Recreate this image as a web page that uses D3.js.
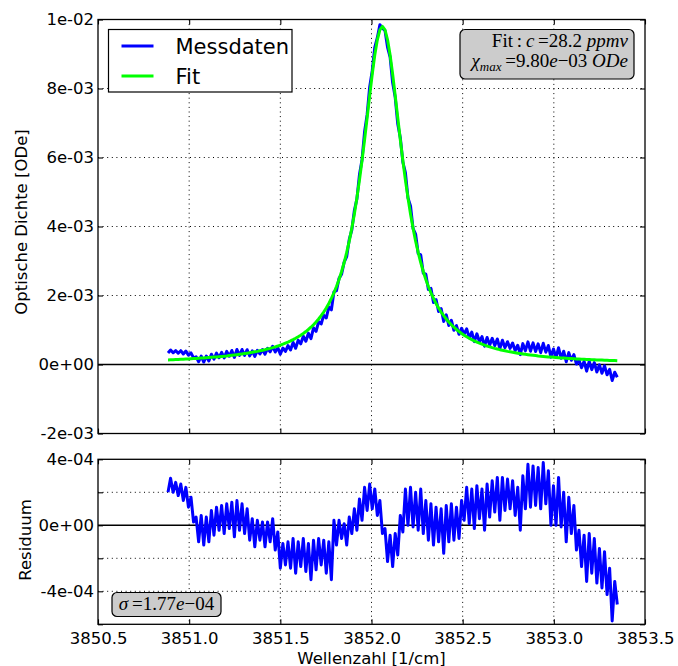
<!DOCTYPE html>
<html>
<head>
<meta charset="utf-8">
<script src="https://cdn.jsdelivr.net/npm/d3@7"></script>
<style>
  body { margin: 0; background: #fff; }
  svg { display: block; }
  .tick text { font-family: "DejaVu Sans", sans-serif; font-size: 16.5px; fill: #000; }
</style>
</head>
<body>
<svg id="chart" width="678" height="666"></svg>
<script>
// Wavenumber grid of the recorded spectrum [1/cm]
const wavenumber = [
  3850.884, 3850.898, 3850.912, 3850.926, 3850.940, 3850.954, 3850.968, 3850.982, 3850.996, 3851.010,
  3851.024, 3851.038, 3851.052, 3851.066, 3851.080, 3851.094, 3851.108, 3851.122, 3851.136, 3851.150,
  3851.164, 3851.178, 3851.192, 3851.206, 3851.220, 3851.234, 3851.248, 3851.262, 3851.276, 3851.290,
  3851.304, 3851.318, 3851.332, 3851.346, 3851.360, 3851.374, 3851.388, 3851.402, 3851.416, 3851.430,
  3851.444, 3851.458, 3851.472, 3851.486, 3851.500, 3851.514, 3851.528, 3851.542, 3851.556, 3851.570,
  3851.584, 3851.598, 3851.612, 3851.626, 3851.640, 3851.654, 3851.668, 3851.682, 3851.696, 3851.710,
  3851.724, 3851.738, 3851.752, 3851.766, 3851.780, 3851.794, 3851.808, 3851.822, 3851.836, 3851.850,
  3851.864, 3851.878, 3851.892, 3851.906, 3851.920, 3851.934, 3851.948, 3851.962, 3851.976, 3851.990,
  3852.004, 3852.018, 3852.032, 3852.046, 3852.060, 3852.074, 3852.088, 3852.102, 3852.116, 3852.130,
  3852.144, 3852.158, 3852.172, 3852.186, 3852.200, 3852.214, 3852.228, 3852.242, 3852.256, 3852.270,
  3852.284, 3852.298, 3852.312, 3852.326, 3852.340, 3852.354, 3852.368, 3852.382, 3852.396, 3852.410,
  3852.424, 3852.438, 3852.452, 3852.466, 3852.480, 3852.494, 3852.508, 3852.522, 3852.536, 3852.550,
  3852.564, 3852.578, 3852.592, 3852.606, 3852.620, 3852.634, 3852.648, 3852.662, 3852.676, 3852.690,
  3852.704, 3852.718, 3852.732, 3852.746, 3852.760, 3852.774, 3852.788, 3852.802, 3852.816, 3852.830,
  3852.844, 3852.858, 3852.872, 3852.886, 3852.900, 3852.914, 3852.928, 3852.942, 3852.956, 3852.970,
  3852.984, 3852.998, 3853.012, 3853.026, 3853.040, 3853.054, 3853.068, 3853.082, 3853.096, 3853.110,
  3853.124, 3853.138, 3853.152, 3853.166, 3853.180, 3853.194, 3853.208, 3853.222, 3853.236, 3853.250,
  3853.264, 3853.278, 3853.292, 3853.306, 3853.320, 3853.334, 3853.348
];

// Fitted line profile, optical density in units of 1e-3
const fitOD_e3 = [
  0.133, 0.136, 0.140, 0.143, 0.147, 0.150, 0.154, 0.158, 0.162, 0.166,
  0.171, 0.175, 0.180, 0.185, 0.191, 0.196, 0.202, 0.208, 0.214, 0.220,
  0.227, 0.234, 0.242, 0.249, 0.258, 0.266, 0.275, 0.285, 0.295, 0.305,
  0.316, 0.328, 0.340, 0.353, 0.367, 0.381, 0.397, 0.413, 0.430, 0.449,
  0.468, 0.489, 0.512, 0.535, 0.561, 0.588, 0.618, 0.649, 0.683, 0.720,
  0.760, 0.803, 0.849, 0.900, 0.955, 1.015, 1.081, 1.153, 1.232, 1.319,
  1.415, 1.521, 1.638, 1.769, 1.915, 2.078, 2.261, 2.466, 2.696, 2.956,
  3.248, 3.577, 3.948, 4.365, 4.830, 5.344, 5.908, 6.515, 7.151, 7.794,
  8.414, 8.969, 9.412, 9.700, 9.800,
  9.700, 9.412, 8.969, 8.414, 7.794, 7.151, 6.515, 5.908, 5.344, 4.830,
  4.365, 3.948, 3.577, 3.248, 2.956, 2.696, 2.466, 2.261, 2.078, 1.915,
  1.769, 1.638, 1.521, 1.415, 1.319, 1.232, 1.153, 1.081, 1.015, 0.955,
  0.900, 0.849, 0.803, 0.760, 0.720, 0.683, 0.649, 0.618, 0.588, 0.561,
  0.535, 0.512, 0.489, 0.468, 0.449, 0.430, 0.413, 0.397, 0.381, 0.367,
  0.353, 0.340, 0.328, 0.316, 0.305, 0.295, 0.285, 0.275, 0.266, 0.258,
  0.249, 0.242, 0.234, 0.227, 0.220, 0.214, 0.208, 0.202, 0.196, 0.191,
  0.185, 0.180, 0.175, 0.171, 0.166, 0.162, 0.158, 0.154, 0.150, 0.147,
  0.143, 0.140, 0.136, 0.133, 0.130, 0.127, 0.124, 0.121, 0.119, 0.116,
  0.114, 0.111
];

// Residual (measurement minus fit), in units of 1e-4
const residual_e4 = [
   2.0,  2.85, 2.0,  2.6,  1.8,  2.5,  1.5,  2.3,  1.1,  1.7,
   0.2,  0.5, -1.0,  0.6, -1.2,  0.5, -1.0,  0.9, -0.6,  1.1,
  -0.3,  1.2, -0.5,  1.3, -0.2,  1.4, -0.7,  1.5, -0.3,  1.3,
  -0.5,  1.0, -0.9,  0.4, -1.3,  0.3, -0.9,  0.2, -1.3,  0.2,
  -1.0,  0.4, -1.5, -0.4, -2.6, -1.1, -2.4, -1.0, -2.6, -0.8,
  -2.9, -1.0, -2.5, -0.8, -2.8, -1.1, -3.3, -0.9, -2.7, -0.8,
  -2.4, -0.9, -2.9, -1.0, -3.3,  0.3, -1.2,  0.3, -0.8,  0.1,
  -1.2,  0.5, -0.5,  1.0, -0.3,  1.6,  0.3,  2.3,  0.9,  2.5,
   1.0,  2.2,  0.6,  1.5, -0.5, -0.2, -2.2, -0.6, -2.5, -0.5,
  -1.8,  0.6, -0.4,  2.2,  0.0,  2.3, -0.1,  2.0, -0.3,  2.2,
  -0.5,  1.5, -0.9,  1.3, -1.2,  1.1, -1.0,  1.0, -1.7,  1.2,
  -1.0,  1.3, -0.9,  1.1, -0.8,  1.5,  0.3,  2.3,  0.1,  2.2,
  -0.2,  2.4,  0.4,  2.2, -0.3,  2.5,  0.5,  2.7,  0.8,  2.9,
   0.3,  2.9,  0.9,  2.8,  1.0,  2.7,  0.6,  2.3, -0.3,  3.0,
   1.0,  3.7,  1.1,  3.6,  1.2,  3.5,  1.0,  3.8,  1.3,  3.3,
   0.0,  2.4,  0.0,  2.9, -0.1,  2.0, -1.0,  1.7, -0.5,  1.2,
  -1.5, -0.3, -2.5, -0.6, -3.4, -0.5, -2.9, -0.8, -3.5, -1.4,
  -3.8, -1.6, -4.2, -2.6, -5.8, -3.4, -4.8
];

// Axis ticks and their labels
const xTicks = [3850.5, 3851.0, 3851.5, 3852.0, 3852.5, 3853.0, 3853.5];
const xTickLabels = ["3850.5", "3851.0", "3851.5", "3852.0", "3852.5", "3853.0", "3853.5"];
const odTicks = [-2e-3, 0, 2e-3, 4e-3, 6e-3, 8e-3, 1e-2];
const odTickLabels = ["-2e-03", "0e+00", "2e-03", "4e-03", "6e-03", "8e-03", "1e-02"];
const resTicks = [-6e-4, -4e-4, -2e-4, 0, 2e-4, 4e-4];
const resTickLabels = ["", "-4e-04", "", "0e+00", "", "4e-04"];

// Series names
const seriesNames = ["Messdaten", "Fit"];
const seriesColors = ["#0000ff", "#00ff00"];

// Derived series
const fitOD = fitOD_e3.map(v => v * 1e-3);
const residual = residual_e4.map(v => v * 1e-4);
const measuredOD = fitOD.map((f, i) => f + residual[i]);

const svg = d3.select("#chart");
const left = 98, right = 645;
const topPanel = { y0: 19.5, y1: 433.5 };
const resPanel = { y0: 459.3, y1: 624.3 };

const x = d3.scaleLinear().domain([3850.5, 3853.5]).range([left, right]);
const yOD = d3.scaleLinear().domain([-2e-3, 1e-2]).range([topPanel.y1, topPanel.y0]);
const yRes = d3.scaleLinear().domain([-6e-4, 4e-4]).range([resPanel.y1, resPanel.y0]);

const defs = svg.append("defs");
function clip(id, p) {
  defs.append("clipPath").attr("id", id)
    .append("rect").attr("x", left).attr("y", p.y0)
    .attr("width", right - left).attr("height", p.y1 - p.y0);
}
clip("clipTop", topPanel);
clip("clipRes", resPanel);

function panel(p, y, yTicks, yLabels, showXLabels) {
  const g = svg.append("g");
  // dotted grid
  const grid = g.append("g").attr("stroke", "#000").attr("stroke-width", 1)
    .attr("stroke-dasharray", "1,3.6");
  grid.selectAll("line.v").data(xTicks.slice(1, -1)).join("line")
    .attr("x1", d => x(d)).attr("x2", d => x(d))
    .attr("y1", p.y0).attr("y2", p.y1);
  grid.selectAll("line.h").data(yTicks.filter(d => y(d) > p.y0 + 1 && y(d) < p.y1 - 1 && d !== 0)).join("line")
    .attr("x1", left).attr("x2", right)
    .attr("y1", d => y(d)).attr("y2", d => y(d));
  // zero line
  g.append("line").attr("x1", left).attr("x2", right)
    .attr("y1", y(0)).attr("y2", y(0))
    .attr("stroke", "#000").attr("stroke-width", 1.4);

  // axes with inward ticks on all four sides
  const bottomAxis = d3.axisBottom(x).tickValues(xTicks)
    .tickFormat((d, i) => showXLabels ? xTickLabels[i] : "")
    .tickSizeInner(-5).tickSizeOuter(0).tickPadding(8);
  const topAxis = d3.axisTop(x).tickValues(xTicks).tickFormat("")
    .tickSizeInner(-5).tickSizeOuter(0);
  const leftAxis = d3.axisLeft(y).tickValues(yTicks)
    .tickFormat((d, i) => yLabels[i])
    .tickSizeInner(-5).tickSizeOuter(0).tickPadding(4);
  const rightAxis = d3.axisRight(y).tickValues(yTicks).tickFormat("")
    .tickSizeInner(-5).tickSizeOuter(0);

  const axes = [
    g.append("g").attr("transform", `translate(0,${p.y1})`).call(bottomAxis),
    g.append("g").attr("transform", `translate(0,${p.y0})`).call(topAxis),
    g.append("g").attr("transform", `translate(${left},0)`).call(leftAxis),
    g.append("g").attr("transform", `translate(${right},0)`).call(rightAxis)
  ];
  axes.forEach(a => {
    a.select(".domain").remove();
    a.selectAll(".tick line").attr("stroke", "#000").attr("stroke-width", 1.1);
  });
  return g;
}

function frame(p) {
  svg.append("rect").attr("x", left).attr("y", p.y0)
    .attr("width", right - left).attr("height", p.y1 - p.y0)
    .attr("fill", "none").attr("stroke", "#000").attr("stroke-width", 1.3);
}

// ---- upper panel: optical density ----
panel(topPanel, yOD, odTicks, odTickLabels, false);
const lineOD = d3.line().x((d, i) => x(wavenumber[i])).y(d => yOD(d));
const topPlot = svg.append("g").attr("clip-path", "url(#clipTop)");
topPlot.append("path").datum(measuredOD).attr("d", lineOD)
  .attr("fill", "none").attr("stroke", seriesColors[0]).attr("stroke-width", 3)
  .attr("stroke-linejoin", "round");
topPlot.append("path").datum(fitOD).attr("d", lineOD)
  .attr("fill", "none").attr("stroke", seriesColors[1]).attr("stroke-width", 3)
  .attr("stroke-linejoin", "round");
frame(topPanel);

// ---- lower panel: residual ----
panel(resPanel, yRes, resTicks, resTickLabels, true);
const lineRes = d3.line().x((d, i) => x(wavenumber[i])).y(d => yRes(d));
svg.append("g").attr("clip-path", "url(#clipRes)")
  .append("path").datum(residual).attr("d", lineRes)
  .attr("fill", "none").attr("stroke", seriesColors[0]).attr("stroke-width", 3)
  .attr("stroke-linejoin", "round");
frame(resPanel);

// ---- axis titles ----
const sans = "'DejaVu Sans', sans-serif";
svg.append("text").attr("x", (left + right) / 2).attr("y", 663.5)
  .attr("text-anchor", "middle").attr("font-family", sans).attr("font-size", 16.5)
  .text("Wellenzahl [1/cm]");
svg.append("text").attr("transform", "translate(27,222) rotate(-90)")
  .attr("text-anchor", "middle").attr("font-family", sans).attr("font-size", 16.5)
  .text("Optische Dichte [ODe]");
svg.append("text").attr("transform", "translate(31,540) rotate(-90)")
  .attr("text-anchor", "middle").attr("font-family", sans).attr("font-size", 16.5)
  .text("Residuum");

// ---- legend ----
const legend = svg.append("g");
legend.append("rect").attr("x", 108.5).attr("y", 29.5).attr("width", 183.5).attr("height", 62.5)
  .attr("fill", "#fff").attr("stroke", "#000").attr("stroke-width", 1.2);
seriesNames.forEach((name, i) => {
  const ly = 46 + i * 30;
  legend.append("line").attr("x1", 121.5).attr("x2", 153.5).attr("y1", ly).attr("y2", ly)
    .attr("stroke", seriesColors[i]).attr("stroke-width", 3);
  legend.append("text").attr("x", 175.5).attr("y", ly + 8)
    .attr("font-family", sans).attr("font-size", 21).text(name);
});

// ---- fit result box ----
const serif = "'Liberation Serif', 'DejaVu Serif', serif";
svg.append("rect").attr("x", 460).attr("y", 29.5).attr("width", 174).attr("height", 49.5)
  .attr("rx", 5).attr("ry", 5)
  .attr("fill", "#cccccc").attr("stroke", "#000").attr("stroke-width", 1.2);
const t1 = svg.append("text").attr("x", 628).attr("y", 47)
  .attr("text-anchor", "end").attr("font-family", serif).attr("font-size", 19);
t1.append("tspan").text("Fit\u2009:\u2009");
t1.append("tspan").attr("font-style", "italic").text("c");
t1.append("tspan").text("\u2009=28.2 ");
t1.append("tspan").attr("font-style", "italic").text("ppmv");
const t2 = svg.append("text").attr("x", 628).attr("y", 67)
  .attr("text-anchor", "end").attr("font-family", serif).attr("font-size", 19);
t2.append("tspan").attr("font-style", "italic").text("\u03c7");
t2.append("tspan").attr("font-style", "italic").attr("font-size", 13).attr("dy", 4).text("max");
t2.append("tspan").attr("dy", -4).text("\u2009=9.80");
t2.append("tspan").attr("font-style", "italic").text("e");
t2.append("tspan").text("\u221203 ");
t2.append("tspan").attr("font-style", "italic").text("ODe");

// ---- residual spread box ----
svg.append("rect").attr("x", 112).attr("y", 592.5).attr("width", 109).attr("height", 24)
  .attr("rx", 5).attr("ry", 5)
  .attr("fill", "#cccccc").attr("stroke", "#000").attr("stroke-width", 1.2);
const t3 = svg.append("text").attr("x", 166.5).attr("y", 609.5)
  .attr("text-anchor", "middle").attr("font-family", serif).attr("font-size", 19);
t3.append("tspan").attr("font-style", "italic").text("\u03c3");
t3.append("tspan").text("\u2009=1.77");
t3.append("tspan").attr("font-style", "italic").text("e");
t3.append("tspan").text("\u221204");
</script>
</body>
</html>
